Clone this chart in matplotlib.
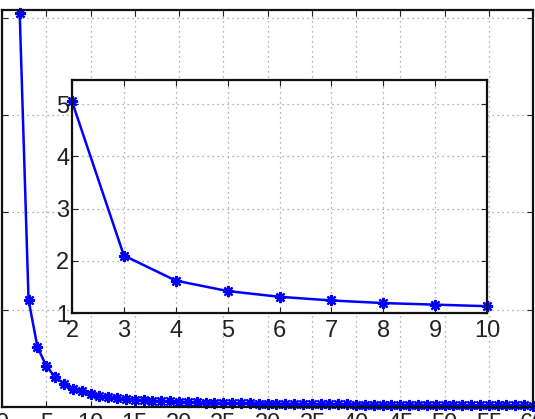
import matplotlib
matplotlib.use("Agg")
import matplotlib.pyplot as plt

# Data (x = 2 .. 60)
x_vals = list(range(2, 61))
y_vals = [
    5.05, 2.10, 1.62, 1.42, 1.31, 1.24, 1.19, 1.16, 1.13,
    1.11, 1.10, 1.09, 1.08, 1.075, 1.07, 1.065, 1.06, 1.057, 1.054,
    1.051, 1.048, 1.046, 1.044, 1.042, 1.040, 1.038, 1.037, 1.035, 1.034,
    1.033, 1.032, 1.031, 1.030, 1.029, 1.028, 1.027, 1.026, 1.026, 1.025,
    1.024, 1.024, 1.023, 1.022, 1.022, 1.021, 1.021, 1.020, 1.020, 1.019,
    1.019, 1.018, 1.018, 1.018, 1.017, 1.017, 1.016, 1.016, 1.016, 1.015,
]
main_xticks = list(range(0, 61, 5))
main_yticks = [1, 2, 3, 4, 5]
inset_n = 9  # first 9 points (x = 2 .. 10) shown in the inset
inset_xticks = list(range(2, 11))
inset_yticks = [1, 2, 3, 4, 5]

plt.rcParams["font.family"] = ["Liberation Sans", "DejaVu Sans"]

W, H = 535, 419
fig = plt.figure(figsize=(W / 100, H / 100), dpi=100)

line_kw = dict(color="#0000ff", lw=1.8, marker=(8, 2, 0), ms=8, mew=1.6,
               clip_on=False)
grid_kw = dict(color="#999999", ls=(0, (1, 3)), lw=0.9)


def style(ax):
    ax.tick_params(direction="in", top=True, right=True, length=4,
                   width=0.8, labelsize=17, colors="#222222")
    for s in ax.spines.values():
        s.set_linewidth(1.6)
        s.set_color("#111111")
    ax.grid(True, **grid_kw)


# ── Main axes ────────────────────────────────────────────────────────────────
ax = fig.add_axes([2 / W, 12 / H, 531 / W, 397 / H])
ax.plot(x_vals, y_vals, **line_kw)
ax.set_xlim(0, 60)
ax.set_ylim(1, 5.08)
ax.set_xticks(main_xticks)
ax.set_yticks(main_yticks)
style(ax)
ax.tick_params(axis="x", pad=4)
ax.tick_params(axis="y", pad=6)

# ── Inset ────────────────────────────────────────────────────────────────────
ins = fig.add_axes([72 / W, (H - 313) / H, 415 / W, 233 / H])
ins.plot(x_vals[:inset_n], y_vals[:inset_n], **line_kw)
ins.set_xlim(2, 10)
ins.set_ylim(1, 5.46)
ins.set_xticks(inset_xticks)
ins.set_yticks(inset_yticks)
style(ins)
ins.tick_params(axis="x", pad=5)
ins.tick_params(axis="y", pad=2)

fig.savefig("out.png", dpi=100)
